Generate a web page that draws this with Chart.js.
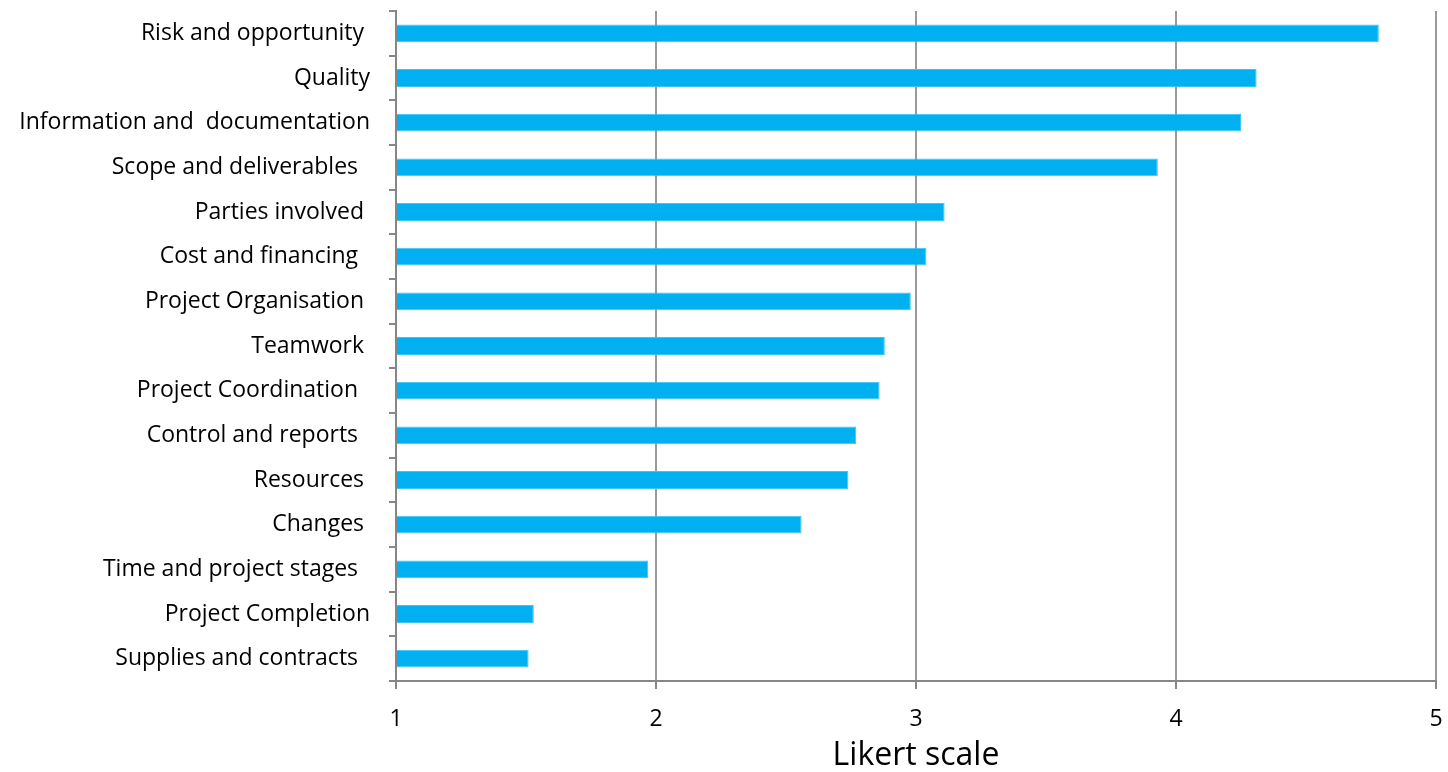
<!DOCTYPE html>
<html>
<head>
<meta charset="utf-8">
<script src="https://cdn.jsdelivr.net/npm/chart.js@4/dist/chart.umd.min.js"></script>
<style>
  html, body { margin: 0; padding: 0; background: #fff; }
  #wrap { width: 1448px; height: 772px; }
</style>
</head>
<body>
<div id="wrap"><canvas id="myChart" width="1448" height="772"></canvas></div>
<script>
// categories, top to bottom
var categories = [
  'Risk and opportunity ', 'Quality', 'Information and  documentation', 'Scope and deliverables  ',
  'Parties involved ', 'Cost and financing  ', 'Project Organisation ', 'Teamwork ',
  'Project Coordination  ', 'Control and reports  ', 'Resources ', 'Changes ',
  'Time and project stages  ', 'Project Completion', 'Supplies and contracts  '
];
var likertValues = [4.78, 4.31, 4.25, 3.93, 3.11, 3.04, 2.98, 2.88, 2.86, 2.77, 2.74, 2.56, 1.97, 1.53, 1.51];
var xTicks = [1, 2, 3, 4, 5];

function renderChart() {
  var ctx = document.getElementById('myChart').getContext('2d');
  new Chart(ctx, {
    type: 'bar',
    data: {
      labels: categories,
      datasets: [{
        data: likertValues,
        backgroundColor: '#00B0F0',
        borderColor: '#3cc4f4',
        borderWidth: 1,
        borderSkipped: 'start',
        barPercentage: 0.4,
        categoryPercentage: 1.0,
        base: 1
      }]
    },
    options: {
      indexAxis: 'y',
      responsive: false,
      animation: false,
      layout: { padding: { top: 11, right: 12, left: 0, bottom: 0 } },
      plugins: { legend: { display: false }, tooltip: { enabled: false } },
      scales: {
        x: {
          min: 1,
          max: 5,
          afterBuildTicks: function (scale) {
            scale.ticks = xTicks.map(function (v) { return { value: v }; });
          },
          afterFit: function (scale) {
            scale.height = 91;
            scale.paddingLeft = 0;
            scale.paddingRight = 0;
          },
          grid: {
            color: function (c) { return c.tick && c.tick.value === 1 ? 'rgba(0,0,0,0)' : '#9a9a9a'; },
            lineWidth: 2,
            drawTicks: true,
            tickLength: 8,
            tickColor: '#888'
          },
          border: { color: '#868686', width: 2 },
          ticks: {
            color: '#000',
            font: { family: 'Open Sans', size: 23 },
            padding: 17
          },
          title: {
            display: true,
            text: 'Likert scale',
            color: '#000',
            font: { family: 'Open Sans', size: 32, lineHeight: 1.0 },
            padding: { top: 0, bottom: 0 }
          }
        },
        y: {
          afterFit: function (scale) {
            scale.width = 396;
            scale.paddingTop = 0;
            scale.paddingBottom = 0;
          },
          grid: {
            drawOnChartArea: false,
            drawTicks: true,
            tickLength: 7,
            tickColor: '#888',
            lineWidth: 2
          },
          border: { color: '#868686', width: 2 },
          ticks: {
            color: '#000',
            font: { family: 'Open Sans', size: 23 },
            padding: 19,
            autoSkip: false
          }
        }
      }
    }
  });
}
renderChart();
</script>
</body>
</html>
